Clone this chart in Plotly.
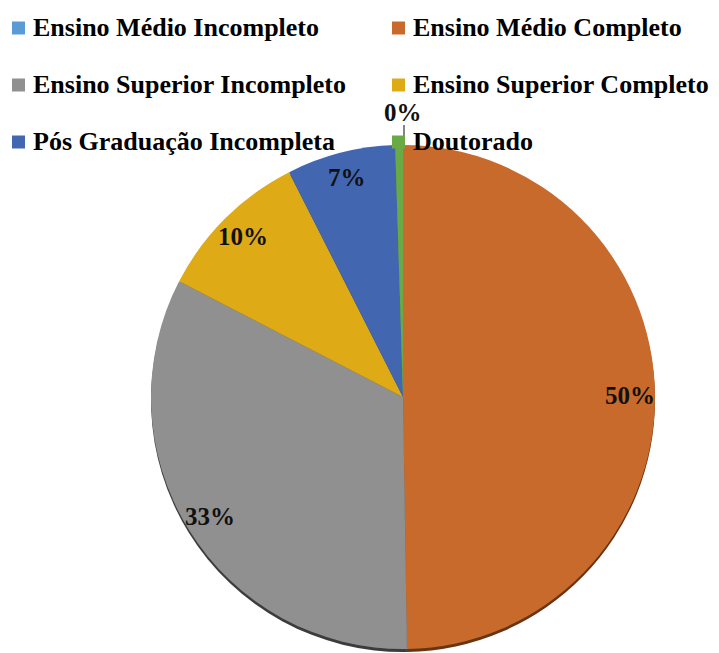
import math
import plotly.graph_objects as go

# ---- data ----
categories = [
    "Ensino Médio Incompleto",
    "Ensino Médio Completo",
    "Ensino Superior Incompleto",
    "Ensino Superior Completo",
    "Pós Graduação Incompleta",
    "Doutorado",
]
values = [0, 50, 33, 10, 7, 0.5]
pct_labels = ["0%", "50%", "33%", "10%", "7%", ""]

# ---- styles ----
colors = ["#5B9BD5", "#C86A2C", "#909090", "#DEAA15", "#4266B0", "#6AAA45"]
shadow_colors = ["#2d4d6a", "#6a3412", "#3c3c3c", "#7a5c08", "#22386a", "#3c5e26"]
FONT = "Liberation Serif, Times New Roman, serif"

W, H = 719, 653
cx, cy, R = 403, 397, 252          # pie centre / radius in pixels
shadow_dy = 3


def dom(cx_, cy_, r_):
    return dict(x=[(cx_ - r_) / W, (cx_ + r_) / W],
                y=[(H - cy_ - r_) / H, (H - cy_ + r_) / H])


fig = go.Figure()

# shadow pie
fig.add_trace(go.Pie(
    labels=categories, values=values, sort=False, direction="clockwise",
    rotation=0, marker=dict(colors=shadow_colors, line=dict(width=0)),
    textinfo="none", hoverinfo="skip", showlegend=False,
    domain=dom(cx, cy + shadow_dy, R),
))
# main pie
fig.add_trace(go.Pie(
    labels=categories, values=values, sort=False, direction="clockwise",
    rotation=0, marker=dict(colors=colors, line=dict(width=0)),
    textinfo="none", showlegend=False,
    domain=dom(cx, cy, R),
))

annotations = []
shapes = []
total = sum(values)
cum = 0.0
for cat, v, lab in zip(categories, values, pct_labels):
    start = cum / total * 360
    cum += v
    end = cum / total * 360
    if lab:
        if v == 0:
            ang = math.radians(start)
            rr = R + 32
            x = cx + rr * math.sin(ang)
            y = cy - rr * math.cos(ang)
            # leader line
            shapes.append(dict(type="line", xref="paper", yref="paper",
                               x0=(cx + 1) / W, x1=(cx + 1) / W,
                               y0=1 - (cy - R) / H, y1=1 - (cy - R - 20) / H,
                               line=dict(color="#333333", width=1.2)))
        else:
            ang = math.radians((start + end) / 2)
            rr = 0.9 * R
            x = cx + rr * math.sin(ang)
            y = cy - rr * math.cos(ang)
        annotations.append(dict(
            x=x / W, y=1 - y / H, xref="paper", yref="paper",
            text=lab, showarrow=False, xanchor="center", yanchor="middle",
            font=dict(family=FONT, size=25, color="#111111", weight="bold"),
        ))

# manual legend (2 columns x 3 rows)
col_x = [12, 392]
row_y = [28, 85, 142]
for i, (cat, col) in enumerate(zip(categories, colors)):
    r, c = divmod(i, 2)
    sx = col_x[c]
    sy = row_y[r]
    shapes.append(dict(type="rect", xref="paper", yref="paper",
                       x0=sx / W, x1=(sx + 13) / W,
                       y0=1 - (sy + 6.5) / H, y1=1 - (sy - 6.5) / H,
                       fillcolor=col, line=dict(width=0)))
    annotations.append(dict(
        x=(sx + 19) / W, y=1 - sy / H, xref="paper", yref="paper",
        text=cat, showarrow=False, xanchor="left", yanchor="middle",
        font=dict(family=FONT, size=26, color="#000000", weight="bold"),
    ))

fig.update_layout(
    width=W, height=H,
    margin=dict(l=0, r=0, t=0, b=0),
    paper_bgcolor="white", plot_bgcolor="white",
    showlegend=False,
    annotations=annotations,
    shapes=shapes,
)

fig.write_html(
    "out.html",
    config={"displayModeBar": False},
    post_script="document.body.style.margin='0';document.body.style.overflow='hidden';",
)
